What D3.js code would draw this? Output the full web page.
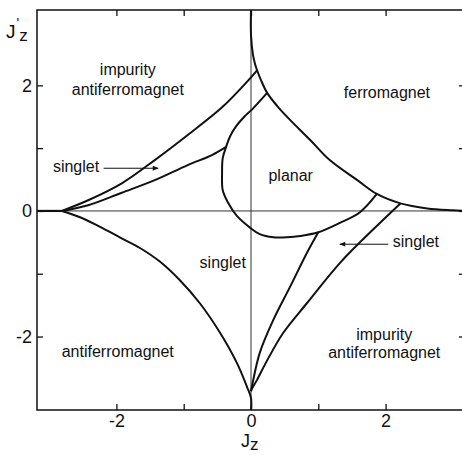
<!DOCTYPE html>
<html>
<head>
<meta charset="utf-8">
<script src="https://cdn.jsdelivr.net/npm/d3@7/dist/d3.min.js"></script>
<style>
  html, body { margin: 0; padding: 0; background: #fff; }
  svg { display: block; font-family: "Liberation Sans", Arial, Helvetica, sans-serif; }
</style>
</head>
<body>
<svg id="chart" width="462" height="455"></svg>
<script>
// ---- axis ranges and ticks ----
const xDomain = [-3.18, 3.18];
const yDomain = [-3.17, 3.2];
const tickValues = [-2, -1, 0, 1, 2];
const xTickLabels = ["-2", "", "0", "", "2"];
const yTickLabels = ["-2", "", "0", "", "2"];

// ---- phase boundaries, points as [Jz, J'z] ----
// ferromagnet boundary
const ferroBoundary = [
  [0.00, 3.20], [0.00, 2.80], [0.03, 2.48], [0.06, 2.34], [0.09, 2.24],
  [0.15, 2.08], [0.24, 1.88], [0.39, 1.67], [0.58, 1.45], [0.88, 1.13],
  [1.17, 0.81], [1.58, 0.49], [1.87, 0.27], [2.22, 0.12], [2.62, 0.04],
  [3.00, 0.01], [3.18, 0.00]
];
// impurity antiferromagnet / singlet (upper left)
const upperImpurityBoundary = [
  [-2.81, 0.00], [-2.42, 0.17], [-1.92, 0.44], [-1.43, 0.81],
  [-0.94, 1.21], [-0.43, 1.65], [-0.04, 2.08], [0.09, 2.24]
];
// singlet / planar-side boundary (upper left)
const upperSingletBoundary = [
  [-2.81, 0.00], [-2.42, 0.09], [-1.92, 0.29], [-1.43, 0.49],
  [-0.94, 0.73], [-0.58, 0.89], [-0.37, 1.02]
];
// planar region outline
const planarBoundary = [
  [0.24, 1.88], [0.01, 1.61], [-0.10, 1.50], [-0.22, 1.35], [-0.31, 1.19],
  [-0.37, 1.02], [-0.42, 0.84], [-0.43, 0.60], [-0.42, 0.33], [-0.34, 0.13],
  [-0.21, -0.08], [-0.01, -0.27], [0.13, -0.37], [0.33, -0.42], [0.54, -0.42],
  [0.73, -0.40], [1.00, -0.34], [1.32, -0.19], [1.62, -0.02], [1.87, 0.27]
];
// singlet wedge (lower right), inner edge
const lowerSingletInner = [
  [1.00, -0.34], [0.83, -0.67], [0.58, -1.21], [0.33, -1.74],
  [0.13, -2.26], [0.02, -2.76], [0.00, -2.87]
];
// singlet wedge (lower right), outer edge
const lowerSingletOuter = [
  [2.22, 0.12], [1.81, -0.30], [1.32, -0.83], [0.83, -1.47], [0.48, -1.94],
  [0.24, -2.38], [0.09, -2.69], [0.01, -2.84], [0.00, -2.87]
];
// antiferromagnet boundary
const antiferroBoundary = [
  [-2.81, 0.00], [-2.54, -0.10], [-2.25, -0.25], [-1.95, -0.42], [-1.65, -0.59],
  [-1.35, -0.81], [-1.06, -1.10], [-0.76, -1.47], [-0.46, -1.94], [-0.21, -2.42],
  [-0.06, -2.80], [0.00, -2.98], [0.00, -3.17]
];
const antiferroAxisSegment = [[-3.18, 0.00], [-2.81, 0.00]];

// ---- region names ----
const regionLabels = [
  { text: "impurity",        x: -1.83, y: 2.16 },
  { text: "antiferromagnet", x: -1.83, y: 1.85 },
  { text: "ferromagnet",     x: 2.02,  y: 1.80 },
  { text: "singlet",         x: -2.60, y: 0.62 },
  { text: "planar",          x: 0.59,  y: 0.48 },
  { text: "singlet",         x: -0.42, y: -0.91 },
  { text: "singlet",         x: 2.45,  y: -0.57 },
  { text: "impurity",        x: 1.98,  y: -2.05 },
  { text: "antiferromagnet", x: 1.98,  y: -2.34 },
  { text: "antiferromagnet", x: -1.98, y: -2.33 }
];
// pointer arrows: from [x, y] to [x, y]
const arrowFrom = [[-2.19, 0.68], [2.04, -0.53]];
const arrowTo   = [[-1.38, 0.68], [1.32, -0.53]];

// ---- drawing ----
const svg = d3.select("#chart");
const plotLeft = 37, plotRight = 465, plotTop = 10, plotBottom = 410;

const x = d3.scaleLinear().domain(xDomain).range([plotLeft, plotRight]);
const y = d3.scaleLinear().domain(yDomain).range([plotBottom, plotTop]);

const ink = "#111";

// zero lines
svg.append("line")
  .attr("x1", plotLeft).attr("x2", plotRight).attr("y1", y(0)).attr("y2", y(0))
  .attr("stroke", "#333").attr("stroke-width", 1);
svg.append("line")
  .attr("x1", x(0)).attr("x2", x(0)).attr("y1", plotTop).attr("y2", plotBottom)
  .attr("stroke", "#333").attr("stroke-width", 1);

// axes with inward ticks
function styleAxis(g) {
  g.select(".domain").remove();
  g.selectAll(".tick line").attr("stroke", ink).attr("stroke-width", 1.3);
  g.selectAll(".tick text")
    .attr("fill", ink)
    .style("font-size", "18px")
    .style("font-family", "\"Liberation Sans\", Arial, sans-serif");
}
const fmtX = d => xTickLabels[tickValues.indexOf(d)];
const fmtY = d => yTickLabels[tickValues.indexOf(d)];

svg.append("g").attr("transform", `translate(0,${plotBottom})`)
  .call(d3.axisBottom(x).tickValues(tickValues).tickFormat(fmtX).tickSize(-6).tickPadding(4))
  .call(styleAxis);
svg.append("g").attr("transform", `translate(0,${plotTop})`)
  .call(d3.axisTop(x).tickValues(tickValues).tickFormat(() => "").tickSize(-6))
  .call(styleAxis);
svg.append("g").attr("transform", `translate(${plotLeft},0)`)
  .call(d3.axisLeft(y).tickValues(tickValues).tickFormat(fmtY).tickSize(-6).tickPadding(5))
  .call(styleAxis);
svg.append("g").attr("transform", `translate(${plotRight},0)`)
  .call(d3.axisRight(y).tickValues(tickValues).tickFormat(() => "").tickSize(-6))
  .call(styleAxis);

// frame
svg.append("rect")
  .attr("x", plotLeft).attr("y", plotTop)
  .attr("width", plotRight - plotLeft).attr("height", plotBottom - plotTop)
  .attr("fill", "none").attr("stroke", ink).attr("stroke-width", 1.5);

// phase boundaries
const smooth = d3.line()
  .x(d => x(d[0])).y(d => y(d[1]))
  .curve(d3.curveCatmullRom.alpha(0.5));
const straight = d3.line().x(d => x(d[0])).y(d => y(d[1]));

const curves = [ferroBoundary, upperImpurityBoundary, upperSingletBoundary,
  planarBoundary, lowerSingletInner, lowerSingletOuter, antiferroBoundary];
svg.append("g")
  .selectAll("path.boundary")
  .data(curves)
  .join("path")
  .attr("class", "boundary")
  .attr("d", smooth)
  .attr("fill", "none").attr("stroke", ink)
  .attr("stroke-width", 2).attr("stroke-linejoin", "round");
svg.append("path")
  .attr("d", straight(antiferroAxisSegment))
  .attr("fill", "none").attr("stroke", ink).attr("stroke-width", 2.2);

// region names
svg.append("g")
  .selectAll("text")
  .data(regionLabels)
  .join("text")
  .attr("x", d => x(d.x)).attr("y", d => y(d.y))
  .attr("text-anchor", "middle")
  .attr("fill", ink)
  .style("font-size", "16px")
  .text(d => d.text);

// pointer arrows
const defs = svg.append("defs");
defs.append("marker")
  .attr("id", "head").attr("viewBox", "0 0 10 10")
  .attr("refX", 9).attr("refY", 5)
  .attr("markerWidth", 7).attr("markerHeight", 6)
  .attr("markerUnits", "userSpaceOnUse")
  .attr("orient", "auto")
  .append("path").attr("d", "M0,1 L10,5 L0,9 Z").attr("fill", ink);
svg.append("g")
  .selectAll("line")
  .data(d3.range(arrowFrom.length))
  .join("line")
  .attr("x1", i => x(arrowFrom[i][0])).attr("y1", i => y(arrowFrom[i][1]))
  .attr("x2", i => x(arrowTo[i][0])).attr("y2", i => y(arrowTo[i][1]))
  .attr("stroke", ink).attr("stroke-width", 1)
  .attr("marker-end", "url(#head)");

// axis titles
const xTitle = svg.append("text")
  .attr("x", x(0) - 10).attr("y", 447)
  .attr("fill", ink).style("font-size", "18px");
xTitle.append("tspan").text("J");
xTitle.append("tspan").attr("dy", 3).style("font-size", "17px").text("z");

const yTitle = svg.append("text")
  .attr("x", 6).attr("y", 38)
  .attr("fill", ink).style("font-size", "19px");
yTitle.append("tspan").text("J");
yTitle.append("tspan").attr("dx", 1).attr("dy", -10).style("font-size", "14px").text("'");
yTitle.append("tspan").attr("dx", 0).attr("dy", 13).style("font-size", "17px").text("z");
</script>
</body>
</html>
